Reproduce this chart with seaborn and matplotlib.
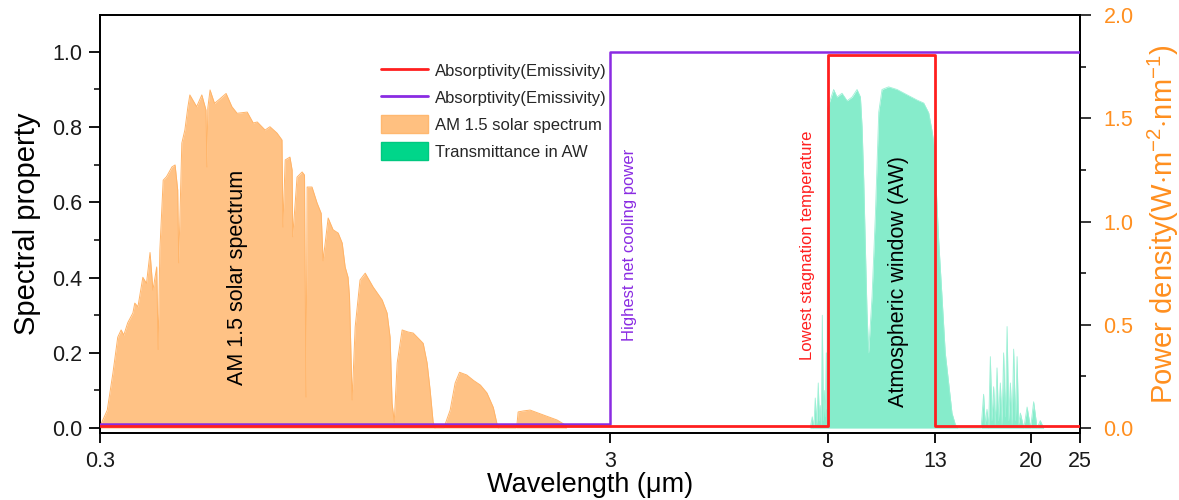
import matplotlib
matplotlib.use("Agg")
import matplotlib.pyplot as plt
from matplotlib.lines import Line2D
from matplotlib.patches import Patch
from matplotlib.ticker import FixedLocator, MultipleLocator, NullLocator
import numpy as np
import pandas as pd
import seaborn as sns

# ---- data -------------------------------------------------------------
# AM 1.5 solar spectrum: wavelength (um) and power density (W m^-2 nm^-1)
solar_wl = [0.300, 0.302, 0.310, 0.318, 0.325, 0.330, 0.334, 0.340, 0.348, 0.351,
            0.356, 0.364, 0.370, 0.376, 0.381, 0.3875, 0.390, 0.393, 0.399, 0.405,
            0.415, 0.421, 0.426, 0.428, 0.434, 0.440, 0.446, 0.450, 0.464, 0.475,
            0.484, 0.486, 0.488, 0.493, 0.503, 0.512, 0.530, 0.544, 0.557, 0.583,
            0.599, 0.610, 0.632, 0.646, 0.667, 0.682, 0.685, 0.692, 0.707, 0.714,
            0.716, 0.730, 0.747, 0.755, 0.760, 0.764, 0.781, 0.799, 0.814, 0.821,
            0.840, 0.859, 0.879, 0.895, 0.907, 0.919, 0.925, 0.936, 0.949, 0.970,
            0.993, 1.029, 1.072, 1.096, 1.111, 1.121, 1.132, 1.147, 1.173, 1.205,
            1.233, 1.272, 1.290, 1.313, 1.331, 1.349, 1.360, 1.420, 1.425, 1.457,
            1.490, 1.520, 1.570, 1.620, 1.670, 1.720, 1.770, 1.800, 1.810, 1.960,
            1.970, 1.980, 2.030, 2.090, 2.220, 2.360, 2.450, 2.460]
solar_pd = [0.000, 0.024, 0.087, 0.266, 0.440, 0.475, 0.450, 0.510, 0.557, 0.605,
            0.587, 0.730, 0.700, 0.850, 0.668, 0.780, 0.380, 0.860, 1.200, 1.217,
            1.264, 1.274, 1.153, 0.800, 1.380, 1.443, 1.554, 1.613, 1.556, 1.613,
            1.540, 1.264, 1.550, 1.637, 1.572, 1.588, 1.620, 1.556, 1.524, 1.530,
            1.477, 1.482, 1.443, 1.459, 1.428, 1.395, 0.973, 1.298, 1.312, 1.249,
            0.926, 1.215, 1.240, 1.225, 0.150, 1.167, 1.167, 1.090, 1.040, 0.810,
            1.017, 0.960, 0.944, 0.896, 0.780, 0.730, 0.636, 0.136, 0.490, 0.717,
            0.750, 0.683, 0.620, 0.557, 0.440, 0.120, 0.030, 0.315, 0.475, 0.465,
            0.460, 0.426, 0.410, 0.315, 0.184, 0.030, 0.000, 0.000, 0.020, 0.087,
            0.218, 0.270, 0.257, 0.230, 0.208, 0.170, 0.100, 0.020, 0.000, 0.000,
            0.020, 0.078, 0.083, 0.087, 0.063, 0.039, 0.015, 0.000]

# Atmospheric transmittance: wavelength (um) and transmittance
aw_wl = [7.40, 7.467, 7.52, 7.569, 7.62, 7.672, 7.71, 7.742, 7.78, 7.813,
         7.85, 7.884, 7.92, 7.955, 7.98, 8.00, 8.224, 8.35, 8.54, 8.74,
         8.94, 9.14, 9.28, 9.35, 9.42, 9.49, 9.56, 9.63, 9.78, 9.93,
         10.08, 10.23, 10.54, 10.95, 11.45, 11.98, 12.35, 12.63, 12.82, 12.95,
         13.21, 13.41, 13.61, 13.82, 14.03, 14.24, 14.40,
         16.00, 16.18, 16.30, 16.43, 16.55, 16.68, 16.80, 16.93, 17.05, 17.19,
         17.30, 17.45, 17.58, 17.71, 17.85, 17.99, 18.12, 18.26, 18.40, 18.53,
         18.68, 18.82, 18.95, 19.10, 19.40, 19.69, 20.00, 20.28, 20.60, 20.90,
         21.22]
aw_tr = [0.000, 0.030, 0.000, 0.080, 0.010, 0.120, 0.020, 0.060, 0.010, 0.300,
         0.020, 0.100, 0.030, 0.200, 0.050, 0.850, 0.900, 0.880, 0.890, 0.870,
         0.880, 0.900, 0.880, 0.800, 0.660, 0.480, 0.310, 0.200, 0.350, 0.570,
         0.840, 0.900, 0.907, 0.900, 0.886, 0.872, 0.864, 0.838, 0.790, 0.750,
         0.500, 0.350, 0.200, 0.120, 0.040, 0.010, 0.000,
         0.000, 0.090, 0.010, 0.050, 0.000, 0.190, 0.020, 0.110, 0.010, 0.160,
         0.020, 0.120, 0.010, 0.200, 0.030, 0.270, 0.020, 0.120, 0.010, 0.210,
         0.020, 0.190, 0.010, 0.040, 0.000, 0.056, 0.000, 0.070, 0.000, 0.020,
         0.000]

# Step profiles of the two emitters (absorptivity = emissivity)
red_wl = [0.3, 8.0, 13.0, 25.0]
red_abs = [0.005, 0.993, 0.005, 0.005]
purple_wl = [0.3, 3.0, 25.0]
purple_abs = [0.012, 1.0, 1.0]

x_ticks = [0.3, 3, 8, 13, 20, 25]
x_tick_labels = ["0.3", "3", "8", "13", "20", "25"]

# ---- style ------------------------------------------------------------
sns.set_theme(style="ticks")
plt.rcParams["font.family"] = ["Liberation Sans", "DejaVu Sans"]
plt.rcParams["mathtext.fontset"] = "custom"
plt.rcParams["mathtext.rm"] = "Liberation Sans"
plt.rcParams["mathtext.it"] = "Liberation Sans:italic"

RED = "#FF1F1F"
PURPLE = "#8A2BE2"
ORANGE_FILL = "#FFC285"
ORANGE_EDGE = "#FFB468"
ORANGE_TEXT = "#FF8F1F"
GREEN_FILL = "#86ECCB"
GREEN_LEG = "#00D68A"

fig = plt.figure(figsize=(11.79, 5.0), dpi=100)
ax = fig.add_axes([100 / 1179, 1 - 433 / 500, 980 / 1179, 418 / 500])
ax2 = ax.twinx()

# solar spectrum on the right-hand axis
ax2.fill_between(solar_wl, 0, solar_pd, color=ORANGE_FILL, lw=0, zorder=1)
sns.lineplot(x=solar_wl, y=solar_pd, ax=ax2, color=ORANGE_EDGE, lw=0.7,
             sort=False, estimator=None, zorder=2)

# atmospheric transmittance on the left-hand axis
ax.fill_between(aw_wl, 0, aw_tr, color=GREEN_FILL, lw=0, zorder=1)
sns.lineplot(x=aw_wl, y=aw_tr, ax=ax, color="#9DF0D6", lw=0.6,
             sort=False, estimator=None, zorder=2)

# emitter profiles
sns.lineplot(x=purple_wl, y=purple_abs, ax=ax, color=PURPLE, lw=1.8,
             drawstyle="steps-post", sort=False, estimator=None, zorder=4)
sns.lineplot(x=red_wl, y=red_abs, ax=ax, color=RED, lw=2.0,
             drawstyle="steps-post", sort=False, estimator=None, zorder=5)

# put the left axis (with the emitter lines) above the twin
ax.set_zorder(ax2.get_zorder() + 1)
ax.patch.set_visible(False)

# axes
ax.set_xscale("log")
ax.set_xlim(0.3, 25)
ax.xaxis.set_major_locator(FixedLocator(x_ticks))
ax.set_xticklabels(x_tick_labels)
ax.xaxis.set_minor_locator(NullLocator())
ax.set_ylim(-0.013, 1.098)
ax.yaxis.set_major_locator(FixedLocator([0, 0.2, 0.4, 0.6, 0.8, 1.0]))
ax.yaxis.set_minor_locator(MultipleLocator(0.1))
ax.set_yticklabels(["0.0", "0.2", "0.4", "0.6", "0.8", "1.0"])

ax2.set_ylim(-0.024, 2.0)
ax2.yaxis.set_major_locator(FixedLocator([0, 0.5, 1.0, 1.5, 2.0]))
ax2.yaxis.set_minor_locator(MultipleLocator(0.25))
ax2.set_yticklabels(["0.0", "0.5", "1.0", "1.5", "2.0"])

for a in (ax, ax2):
    for s in a.spines.values():
        s.set_color("black")
        s.set_linewidth(1.3)
ax.tick_params(axis="both", which="major", direction="out", length=8, width=1.3,
               labelsize=15.5, pad=5, colors="black", labelcolor="#1a1a1a")
ax.tick_params(axis="x", which="major", length=7, pad=6)
ax.tick_params(axis="y", which="minor", direction="out", length=4.5, width=1.3)
ax2.tick_params(axis="y", which="major", direction="out", length=8, width=1.3,
                labelsize=15.5, pad=9, labelcolor=ORANGE_TEXT)
ax2.tick_params(axis="y", which="minor", direction="out", length=4.5, width=1.3)

ax.set_xlabel("Wavelength (\u03bcm)", fontsize=19.5, color="black", va="center")
ax.xaxis.set_label_coords(0.5, -0.125)
ax.set_ylabel("Spectral property", fontsize=21, labelpad=8, color="black")
ax2.set_ylabel(r"Power density(W$\cdot$m$^{-2}$$\cdot$nm$^{-1}$)", fontsize=21,
               color=ORANGE_TEXT, va="center")
ax2.yaxis.set_label_coords(1.085, 0.5)

# annotations
ax.text(0.559, 0.40, "AM 1.5 solar spectrum", rotation=90, ha="center",
        va="center", fontsize=15.5, color="black")
ax.text(11.0, 0.39, "Atmospheric window (AW)", rotation=90, ha="center",
        va="center", fontsize=15.5, color="black", zorder=6)
ax.text(7.30, 0.487, "Lowest stagnation temperature", rotation=90, ha="center",
        va="center", fontsize=12, color=RED)
ax.text(3.28, 0.487, "Highest net cooling power", rotation=90, ha="center",
        va="center", fontsize=12, color=PURPLE)

handles = [
    Line2D([], [], color=RED, lw=2),
    Line2D([], [], color=PURPLE, lw=2),
    Patch(facecolor="#FFC080", edgecolor="#FFB870"),
    Patch(facecolor=GREEN_LEG, edgecolor="#00C880"),
]
labels = ["Absorptivity(Emissivity)", "Absorptivity(Emissivity)",
          "AM 1.5 solar spectrum", "Transmittance in AW"]
ax.legend(handles, labels, loc="upper left", bbox_to_anchor=(0.28, 0.905),
          frameon=False, fontsize=12, handlelength=2.8, handleheight=1.3,
          handletextpad=0.45, labelspacing=0.52, borderaxespad=0)

fig.savefig("out.png", dpi=100, facecolor="white")
